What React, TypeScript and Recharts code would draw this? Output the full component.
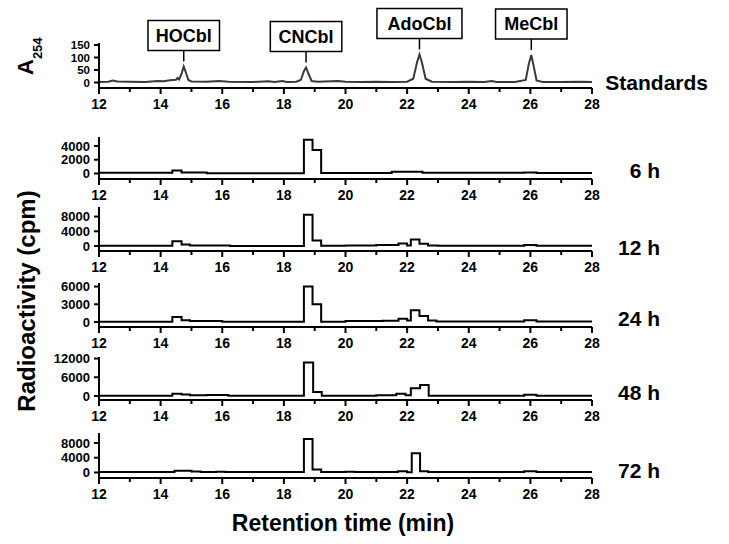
import React from "react";
import { LineChart, Line, XAxis, YAxis, ReferenceDot } from "recharts";

const FONT = '"Liberation Sans", Arial, Helvetica, sans-serif';

// retention time axis (min)
const timeTicks = [12, 13, 14, 15, 16, 17, 18, 19, 20, 21, 22, 23, 24, 25, 26, 27, 28];

// A254 trace of the standards
const stdTime = [
  12.0, 12.3, 12.45, 12.6, 13.0, 13.5, 13.9, 14.1, 14.3, 14.5, 14.55, 14.6, 14.68, 14.75, 14.82, 14.9,
  15.0, 15.5, 15.9, 16.2, 17.0, 17.5, 17.7, 17.95, 18.1, 18.4, 18.55, 18.65, 18.72, 18.8, 18.9, 19.1,
  19.75, 20.0, 20.5, 21.0, 21.5, 22.0, 22.2, 22.32, 22.4, 22.48, 22.6, 22.8, 23.5, 24.0, 24.5, 24.75,
  24.9, 25.5, 25.85, 25.95, 26.03, 26.1, 26.2, 26.4, 27.0, 27.6, 28.0,
];
const stdA254 = [
  2, 3, 8, 4, 3, 2, 6, 5, 9, 11, 18, 12, 35, 64, 40, 10,
  4, 3, 6, 3, 2, 5, 2, 6, 2, 3, 10, 45, 60, 35, 6, 3,
  6, 3, 2, 3, 2, 3, 15, 80, 112, 80, 15, 3, 2, 3, 2, 6,
  2, 2, 10, 75, 110, 70, 8, 2, 2, 3, 2,
];
const stdTicks = [0, 50, 100, 150];

const peakNames = ["HOCbl", "CNCbl", "AdoCbl", "MeCbl"];
const peakTime = [14.75, 18.72, 22.4, 26.03];
const peakA254 = [64, 60, 112, 110];

// radioactivity of the fractions: start time of each step and its cpm
const h6Time = [12.0, 14.38, 14.68, 15.5, 18.65, 18.93, 19.21, 21.5, 22.5, 25.8, 26.2, 28.0];
const h6Cpm = [100, 450, 150, 50, 4900, 3400, 80, 250, 100, 150, 80, 80];
const h6Ticks = [0, 2000, 4000];

const h12Time = [
  12.0, 14.38, 14.68, 14.95, 16.25, 18.65, 18.93, 19.21, 20.0, 21.0, 21.72, 22.0, 22.12, 22.4, 22.68,
  23.0, 25.8, 26.2, 28.0,
];
const h12Cpm = [50, 1300, 400, 150, 30, 8500, 1500, 50, 150, 250, 700, 150, 1800, 600, 150, 50, 300, 100, 100];
const h12Ticks = [0, 4000, 8000];

const h24Time = [
  12.0, 14.38, 14.68, 14.95, 16.0, 18.65, 18.93, 19.21, 20.0, 21.2, 21.72, 22.0, 22.12, 22.4, 22.68,
  22.95, 25.8, 26.2, 28.0,
];
const h24Cpm = [50, 850, 300, 150, 50, 6000, 3000, 50, 150, 200, 550, 250, 2000, 1000, 250, 80, 300, 100, 100];
const h24Ticks = [0, 3000, 6000];

const h48Time = [
  12.0, 14.38, 14.68, 14.95, 15.5, 16.2, 18.65, 18.95, 19.23, 21.0, 21.65, 21.95, 22.12, 22.42, 22.7,
  25.8, 26.2, 28.0,
];
const h48Cpm = [100, 700, 500, 200, 300, 100, 10700, 1300, 100, 200, 700, 200, 2500, 3500, 100, 400, 100, 100];
const h48Ticks = [0, 6000, 12000];

const h72Time = [
  12.0, 14.45, 15.0, 15.3, 15.8, 16.1, 18.65, 18.93, 19.21, 20.0, 20.3, 21.7, 22.0, 22.15, 22.42, 22.68,
  23.5, 24.5, 25.8, 26.2, 28.0,
];
const h72Cpm = [
  100, 450, 250, 100, 200, 100, 9100, 800, 100, 200, 100, 300, 50, 5200, 300, 100, 150, 100, 300, 100, 100,
];
const h72Ticks = [0, 4000, 8000];

const toRows = (t: number[], v: number[]) => t.map((x, i) => ({ t: x, v: v[i] }));

const Y_W = 60;
const X_H = 30;

function TimeTick({ x, y, payload }: any) {
  const major = payload.value % 2 === 0;
  return (
    <g>
      <line x1={x} x2={x} y1={y} y2={y + (major ? 6 : 4)} stroke="#000" strokeWidth={2} />
      {major && (
        <text x={x} y={y + 21} textAnchor="middle" fontSize={14} fontWeight="bold" fontFamily={FONT} fill="#000">
          {payload.value}
        </text>
      )}
    </g>
  );
}

function PeakTag({ cx, cy, name }: any) {
  const w = name.length * 13.5 + 4;
  const boxBottom = cy - 16;
  return (
    <g>
      <line x1={cx} x2={cx} y1={cy - 5} y2={boxBottom} stroke="#000" strokeWidth={1.5} />
      <rect x={cx - w / 2} y={boxBottom - 30} width={w} height={30} fill="#fff" stroke="#000" strokeWidth={1.5} />
      <text x={cx} y={boxBottom - 15} dy="0.36em" textAnchor="middle" fontSize={18} fontWeight="bold" fontFamily={FONT} fill="#000">
        {name}
      </text>
    </g>
  );
}

type PanelProps = {
  top: number;
  bottom: number;
  headroom: number;
  data: { t: number; v: number }[];
  domain: [number, number];
  yTicks: number[];
  yFont: number;
  step: boolean;
  stroke: string;
  children?: React.ReactNode;
};

function Panel({ top, bottom, headroom, data, domain, yTicks, yFont, step, stroke, children }: PanelProps) {
  const h = headroom + (bottom - top) + X_H;
  return (
    <div style={{ position: "absolute", left: 0, top: top - headroom }}>
      <LineChart
        width={729}
        height={h}
        data={data}
        margin={{ top: headroom, right: 137, bottom: 0, left: 99 - Y_W }}
      >
        <XAxis
          type="number"
          dataKey="t"
          domain={[12, 28]}
          ticks={timeTicks}
          interval={0}
          tickLine={false}
          tickSize={0}
          tickMargin={0}
          tick={(p: any) => <TimeTick {...p} />}
          axisLine={{ stroke: "#000", strokeWidth: 2 }}
          height={X_H}
        />
        <YAxis
          type="number"
          domain={domain}
          ticks={yTicks}
          interval={0}
          width={Y_W}
          tickSize={5}
          tickMargin={4}
          axisLine={{ stroke: "#000", strokeWidth: 2 }}
          tickLine={{ stroke: "#000", strokeWidth: 2 }}
          tick={{ fill: "#000", fontSize: yFont, fontWeight: "bold", fontFamily: FONT }}
          allowDataOverflow
        />
        <Line
          dataKey="v"
          type={step ? "stepAfter" : "linear"}
          stroke={stroke}
          strokeWidth={2}
          dot={false}
          isAnimationActive={false}
        />
        {children}
      </LineChart>
    </div>
  );
}

const fractionPanels = [
  { name: "6 h", time: h6Time, cpm: h6Cpm, ticks: h6Ticks, top: 137, bottom: 179, domain: [-800, 5300], labelY: 170 },
  { name: "12 h", time: h12Time, cpm: h12Cpm, ticks: h12Ticks, top: 207, bottom: 251, domain: [-1350, 10600], labelY: 247 },
  { name: "24 h", time: h24Time, cpm: h24Cpm, ticks: h24Ticks, top: 283, bottom: 327, domain: [-850, 6600], labelY: 318 },
  { name: "48 h", time: h48Time, cpm: h48Cpm, ticks: h48Ticks, top: 357, bottom: 400, domain: [-1300, 12500], labelY: 392 },
  { name: "72 h", time: h72Time, cpm: h72Cpm, ticks: h72Ticks, top: 433, bottom: 478, domain: [-1500, 10700], labelY: 470 },
];

export default function App() {
  const textProps = { fontFamily: FONT, fontWeight: "bold" as const, fill: "#000" };
  return (
    <div style={{ position: "absolute", left: 0, top: 0, width: 729, height: 544, background: "#fff", overflow: "hidden" }}>
      <Panel
        top={43}
        bottom={88}
        headroom={43}
        data={toRows(stdTime, stdA254)}
        domain={[-22, 158]}
        yTicks={stdTicks}
        yFont={11.5}
        step={false}
        stroke="#3a3a3a"
      >
        {peakNames.map((n, i) => (
          <ReferenceDot
            key={n}
            x={peakTime[i]}
            y={peakA254[i]}
            r={0}
            ifOverflow="visible"
            shape={(p: any) => <PeakTag cx={p.cx} cy={p.cy} name={n} />}
          />
        ))}
      </Panel>
      {fractionPanels.map((p) => (
        <Panel
          key={p.name}
          top={p.top}
          bottom={p.bottom}
          headroom={5}
          data={toRows(p.time, p.cpm)}
          domain={p.domain as [number, number]}
          yTicks={p.ticks}
          yFont={13}
          step
          stroke="#000"
        />
      ))}
      <svg width={729} height={544} style={{ position: "absolute", left: 0, top: 0, pointerEvents: "none" }}>
        <text transform="translate(33,75) rotate(-90)" fontSize={22} {...textProps}>
          A<tspan fontSize={13} dy={9}>254</tspan>
        </text>
        <text transform="translate(35,301) rotate(-90)" textAnchor="middle" fontSize={24} {...textProps}>
          Radioactivity (cpm)
        </text>
        <text x={343} y={531} textAnchor="middle" fontSize={23} {...textProps}>
          Retention time (min)
        </text>
        <text x={708} y={82} dy="0.36em" textAnchor="end" fontSize={21} {...textProps}>
          Standards
        </text>
        {fractionPanels.map((p) => (
          <text key={p.name} x={660} y={p.labelY} dy="0.36em" textAnchor="end" fontSize={21} {...textProps}>
            {p.name}
          </text>
        ))}
      </svg>
    </div>
  );
}
